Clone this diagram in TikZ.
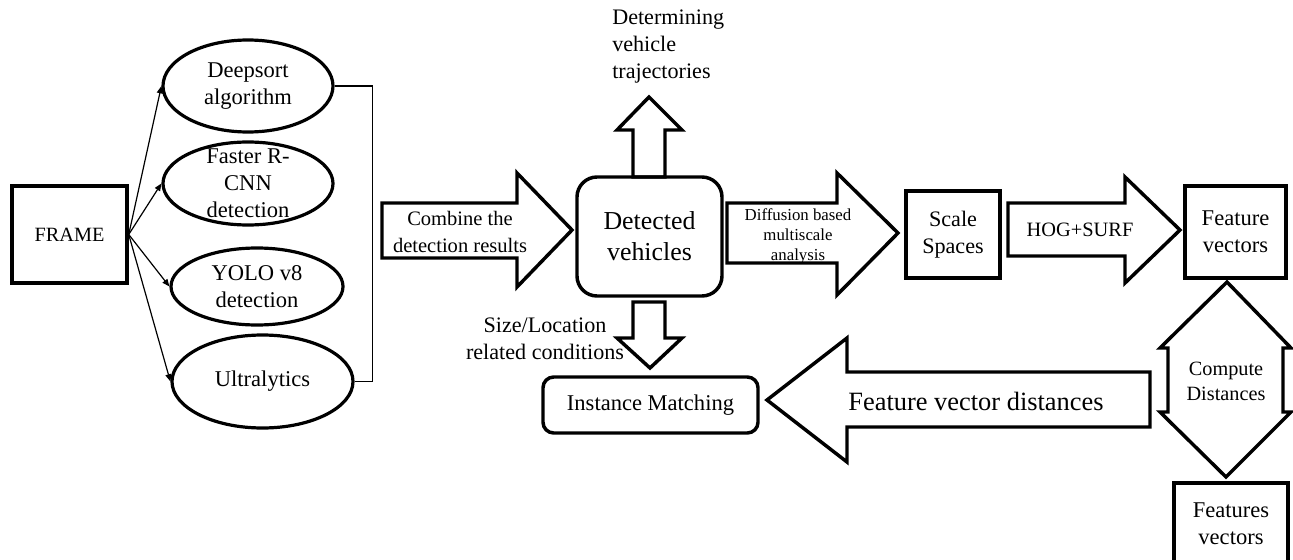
\documentclass[tikz,border=0pt]{standalone}
\usepackage{fontspec}
\setmainfont{Liberation Serif}
\usetikzlibrary{positioning}
\usetikzlibrary{shapes.geometric}
\usetikzlibrary{arrows.meta}

\newcommand{\fsframe}{\fontsize{15.2}{18}\selectfont}
\newcommand{\fsoval}{\fontsize{16.9}{20.2}\selectfont}
\newcommand{\fscomb}{\fontsize{15.4}{20.2}\selectfont}
\newcommand{\fsveh}{\fontsize{19.4}{23.2}\selectfont}
\newcommand{\fsnorm}{\fontsize{16.6}{19.9}\selectfont}
\newcommand{\fssmall}{\fontsize{12.6}{15}\selectfont}
\newcommand{\fshog}{\fontsize{15.3}{18}\selectfont}
\newcommand{\fsbig}{\fontsize{19.8}{23}\selectfont}
\newcommand{\fscomp}{\fontsize{15.2}{18.7}\selectfont}

\begin{document}
\begin{tikzpicture}[x=0.75pt, y=-0.75pt, font=\rmfamily,
  box/.style={draw, line width=2.6pt, inner sep=0pt, align=center},
  rbox/.style={box, rounded corners=#1},
  oval/.style={draw, ellipse, line width=2.4pt, inner sep=0pt},
  blk/.style={draw, line width=2.6pt, line join=miter},
  txt/.style={align=center, inner sep=0pt},
  thin/.style={-{Triangle[length=5.5pt,width=4.5pt]}, line width=0.9pt}]

\useasboundingbox (0,0) rectangle (1293,560);

% input and detectors
\node[box, minimum width=86.25pt, minimum height=72.75pt, font=\fsframe] (frame) at (69.5,234.5) {FRAME};

\node[oval, minimum width=127.5pt, minimum height=69pt,
  label={[txt, font=\fsoval]center:Deepsort\\algorithm}] (deep) at (248,86) {};
\node[oval, minimum width=127.5pt, minimum height=62.25pt,
  label={[txt, font=\fsoval]center:Faster R-\\CNN\\detection}] (rcnn) at (248,183.5) {};
\node[oval, minimum width=129pt, minimum height=57.75pt,
  label={[txt, font=\fsoval]center:YOLO v8\\detection}] (yolo) at (257,286.5) {};
\node[oval, minimum width=135.75pt, minimum height=69.75pt,
  label={[txt, font=\fsoval]center:Ultralytics}] (ultra) at (262.5,381.5) {};

\draw[thin] (frame.east) -- (deep.west);
\draw[thin] (frame.east) -- (rcnn.west);
\draw[thin] (frame.east) -- (yolo.west);
\draw[thin] (frame.east) -- (ultra.west);

\draw[line width=0.9pt] (deep.east) -- ++(38,0) |- (ultra.east);

% combine arrow
\draw[blk] (382,203) -- (517,203) -- (517,173) -- (572,230) -- (517,287) -- (517,258) -- (382,258) -- cycle;
\node[txt, font=\fscomb] (comb) at (460,232) {Combine the\\detection results};

\node[rbox=15pt, minimum width=108.75pt, minimum height=89.25pt, font=\fsveh] (veh) at (649.5,236.5) {Detected\\vehicles};

% trajectories (up)
\draw[blk] (633,177) -- (633,130) -- (617,130) -- (649,97) -- (682,130) -- (665,130) -- (665,177) -- cycle;
\node[txt, align=left, anchor=west, font=\fsnorm] (traj) at (612,46.5) {Determining\\vehicle\\trajectories};

% diffusion arrow
\draw[blk] (727,203) -- (837,203) -- (837,173) -- (898,233) -- (837,295) -- (837,263) -- (727,263) -- cycle;
\node[txt, font=\fssmall] (diff) at (798,236) {Diffusion based\\multiscale\\analysis};

\node[box, minimum width=70.5pt, minimum height=65.25pt, font=\fsnorm] (scale) at (953,234.5) {Scale\\Spaces};

% HOG+SURF arrow
\draw[blk] (1008,203) -- (1125,203) -- (1125,177) -- (1180,230) -- (1125,283) -- (1125,256) -- (1008,256) -- cycle;
\node[txt, font=\fshog] (hog) at (1080,230) {HOG+SURF};

\node[box, minimum width=75.75pt, minimum height=69pt, font=\fsoval] (feat) at (1235.5,232) {Feature\\vectors};

% compute distances (double arrow)
\draw[blk] (1227,282) -- (1291,348) -- (1283,348) -- (1283,412) -- (1291,412) -- (1226,477)
  -- (1160,412) -- (1168,412) -- (1168,348) -- (1160,348) -- cycle;
\node[txt, font=\fscomp] (comp) at (1226,381) {Compute\\Distances};

\node[box, minimum width=85.5pt, minimum height=61.5pt, font=\fsoval] (feat2) at (1231,524) {Features\\vectors};

% matching
\draw[blk] (633,302) -- (665,302) -- (665,338) -- (682,338) -- (650,368) -- (617,338) -- (633,338) -- cycle;
\node[txt, font=\fsnorm] (cond) at (545,339) {Size/Location\\related conditions};

\node[rbox=8pt, minimum width=161.25pt, minimum height=42pt, font=\fsoval] (match) at (650.5,405) {Instance Matching};

\draw[blk] (1150,372) -- (847,372) -- (847,338) -- (767,400) -- (847,462) -- (847,427) -- (1150,427) -- cycle;
\node[txt, font=\fsbig] (dist) at (976,401) {Feature vector distances};

\end{tikzpicture}
\end{document}
